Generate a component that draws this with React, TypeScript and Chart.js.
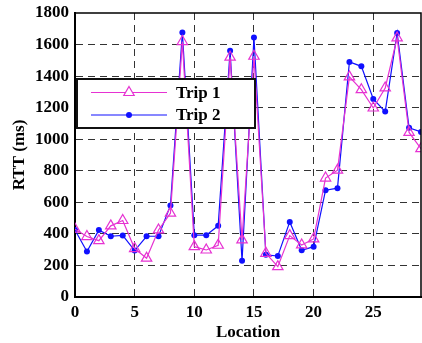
import React, { useEffect, useRef } from "react";
import { Chart, registerables } from "chart.js";

Chart.register(...registerables);

const locations = [0, 1, 2, 3, 4, 5, 6, 7, 8, 9, 10, 11, 12, 13, 14, 15, 16, 17, 18, 19, 20, 21, 22, 23, 24, 25, 26, 27, 28, 29];
const trip1 = [430, 383, 357, 451, 485, 307, 246, 425, 531, 1619, 319, 298, 328, 1520, 362, 1526, 277, 192, 389, 330, 368, 754, 804, 1395, 1314, 1198, 1325, 1642, 1043, 940];
const trip2 = [425, 288, 424, 385, 390, 294, 385, 385, 580, 1676, 392, 392, 451, 1560, 229, 1644, 267, 260, 476, 296, 319, 677, 690, 1490, 1462, 1255, 1175, 1674, 1073, 1046];
const xTicks = [0, 5, 10, 15, 20, 25];
const yTicks = [0, 200, 400, 600, 800, 1000, 1200, 1400, 1600, 1800];
const seriesNames = ["Trip 1", "Trip 2"];

const MAGENTA = "#e632d2";
const BLUE = "#1010ff";
const FONT = "'Liberation Serif', 'Times New Roman', serif";

const legendPlugin = {
  id: "boxLegend",
  afterDatasetsDraw(chart: any) {
    const { ctx, chartArea } = chart;
    const x = chartArea.left + 2;
    const y = chartArea.top + 66;
    const w = 178;
    const h = 49;
    ctx.save();
    ctx.fillStyle = "#ffffff";
    ctx.fillRect(x, y, w, h);
    ctx.lineWidth = 2;
    ctx.strokeStyle = "#111";
    ctx.strokeRect(x, y, w, h);
    const rows = [
      { name: seriesNames[0], color: MAGENTA, marker: "tri", cy: y + 13.5 },
      { name: seriesNames[1], color: BLUE, marker: "dot", cy: y + 36 },
    ];
    for (const r of rows) {
      ctx.strokeStyle = r.color;
      ctx.lineWidth = 1.2;
      ctx.beginPath();
      ctx.moveTo(x + 14, r.cy);
      ctx.lineTo(x + 90, r.cy);
      ctx.stroke();
      const mx = x + 52;
      if (r.marker === "tri") {
        const rad = 6;
        ctx.fillStyle = "#fff";
        ctx.beginPath();
        ctx.moveTo(mx, r.cy - rad);
        ctx.lineTo(mx + rad * 0.866, r.cy + rad * 0.5);
        ctx.lineTo(mx - rad * 0.866, r.cy + rad * 0.5);
        ctx.closePath();
        ctx.fill();
        ctx.stroke();
      } else {
        ctx.fillStyle = r.color;
        ctx.beginPath();
        ctx.arc(mx, r.cy, 3, 0, Math.PI * 2);
        ctx.fill();
      }
      ctx.fillStyle = "#000";
      ctx.font = `bold 17px ${FONT}`;
      ctx.textBaseline = "middle";
      ctx.textAlign = "left";
      ctx.fillText(r.name, x + 99, r.cy + 1);
    }
    ctx.restore();
  },
};

export default function App() {
  const ref = useRef<HTMLCanvasElement | null>(null);
  useEffect(() => {
    document.body.style.margin = "0";
    if (!ref.current) return;
    const chart = new Chart(ref.current, {
      type: "line",
      data: {
        datasets: [
          {
            label: seriesNames[0],
            data: locations.map((l, i) => ({ x: l, y: trip1[i] })),
            borderColor: MAGENTA,
            backgroundColor: "rgba(255,255,255,0)",
            borderWidth: 1.2,
            pointStyle: "triangle",
            pointRadius: 6,
            pointBorderWidth: 1.2,
            pointBorderColor: MAGENTA,
            pointBackgroundColor: "rgba(255,255,255,0)",
            tension: 0,
          },
          {
            label: seriesNames[1],
            data: locations.map((l, i) => ({ x: l, y: trip2[i] })),
            borderColor: BLUE,
            backgroundColor: BLUE,
            borderWidth: 1.2,
            pointStyle: "circle",
            pointRadius: 3,
            pointBorderWidth: 0,
            pointBackgroundColor: BLUE,
            tension: 0,
          },
        ],
      },
      options: {
        animation: false,
        responsive: false,
        maintainAspectRatio: false,
        layout: { autoPadding: false, padding: { left: 0, right: 1, top: 13, bottom: 0 } },
        plugins: { legend: { display: false }, tooltip: { enabled: false } },
        scales: {
          x: {
            type: "linear",
            min: 0,
            max: 29,
            afterBuildTicks: (s: any) => {
              s.ticks = xTicks.map((v) => ({ value: v }));
            },
            afterFit: (s: any) => {
              s.height = 46;
              s.paddingLeft = 0;
              s.paddingRight = 0;
            },
            ticks: {
              color: "#000",
              font: { family: FONT, size: 17, weight: "bold" },
              padding: 5,
              callback: (v: any) => String(v),
            },
            grid: {
              color: (c: any) => (c.tick && c.tick.value === 0 ? "rgba(0,0,0,0)" : "#333"),
              lineWidth: 1,
              drawTicks: false,
            },
            border: { display: true, color: "#000", width: 2, dash: [7, 5] },
            title: {
              display: true,
              text: "Location",
              color: "#000",
              font: { family: FONT, size: 17, weight: "bold" },
              padding: { top: 0, bottom: 0 },
            },
          },
          y: {
            type: "linear",
            min: 0,
            max: 1800,
            afterBuildTicks: (s: any) => {
              s.ticks = yTicks.map((v) => ({ value: v }));
            },
            afterFit: (s: any) => {
              s.width = 75;
              s.paddingTop = 0;
              s.paddingBottom = 0;
            },
            ticks: {
              color: "#000",
              font: { family: FONT, size: 17, weight: "bold" },
              padding: 6,
              callback: (v: any) => String(v),
            },
            grid: {
              color: (c: any) => (c.tick && (c.tick.value === 0 || c.tick.value === 1800) ? "rgba(0,0,0,0)" : "#333"),
              lineWidth: 1,
              drawTicks: false,
            },
            border: { display: true, color: "#000", width: 2, dash: [7, 5] },
            title: {
              display: true,
              text: "RTT (ms)",
              color: "#000",
              font: { family: FONT, size: 17, weight: "bold" },
              padding: { top: 9, bottom: 0 },
            },
          },
        },
      },
      plugins: [
        legendPlugin,
        {
          id: "frame",
          beforeDraw(chart: any) {
            const { ctx } = chart;
            ctx.save();
            ctx.fillStyle = "#fff";
            ctx.fillRect(0, 0, chart.width, chart.height);
            ctx.restore();
          },
          afterDatasetsDraw(chart: any) {
            const { ctx, chartArea } = chart;
            ctx.save();
            ctx.strokeStyle = "#000";
            ctx.lineWidth = 1.5;
            ctx.setLineDash([]);
            ctx.beginPath();
            ctx.moveTo(chartArea.left, chartArea.top);
            ctx.lineTo(chartArea.right, chartArea.top);
            ctx.lineTo(chartArea.right, chartArea.bottom);
            ctx.stroke();
            ctx.restore();
          },
        },
      ],
    } as any);
    return () => chart.destroy();
  }, []);
  return (
    <div style={{ width: 422, height: 343 }}>
      <canvas ref={ref} width={422} height={343} style={{ width: 422, height: 343, display: "block" }} />
    </div>
  );
}
